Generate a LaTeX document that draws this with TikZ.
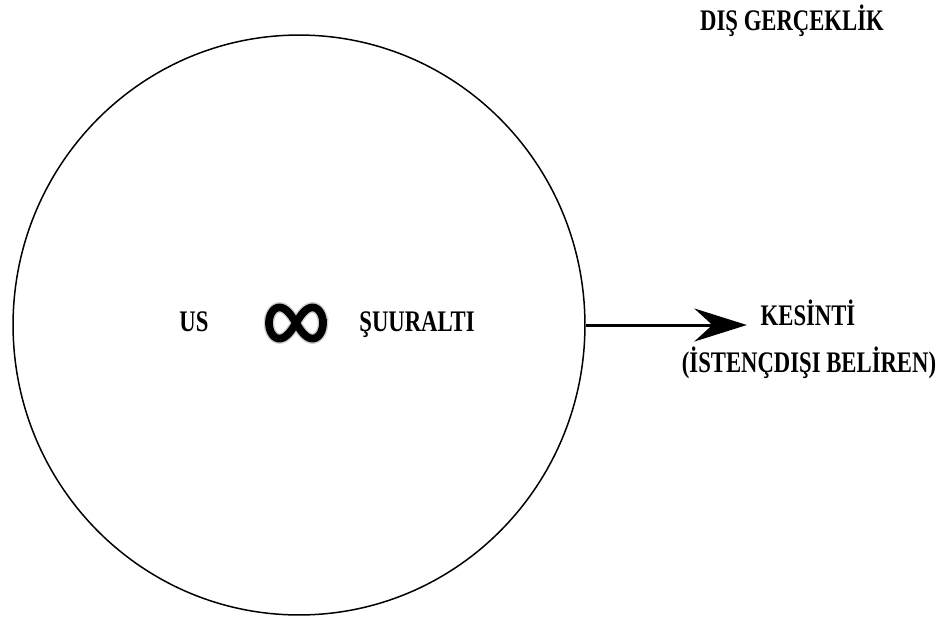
\documentclass[tikz,border=0pt]{standalone}
\usepackage{fontspec}
\setmainfont{Liberation Serif}[FakeStretch=0.76]
\usetikzlibrary{arrows.meta,positioning,shapes.geometric}

\begin{document}
\begin{tikzpicture}[
  x=0.02cm, y=-0.02cm,
  node distance=0.35cm,
  label/.style={font=\bfseries\fontsize{17}{19}\selectfont, anchor=base, inner sep=2pt},
  arrow/.style={-{Stealth[length=1.05cm, width=0.66cm, inset=0.36cm]}, line width=1.7pt}
]
\useasboundingbox (0,0) rectangle (945,619);
% mind and its outside
\node[ellipse, draw, line width=0.85pt, minimum width=11.44cm, minimum height=11.6cm] (ring) at (299,325) {};
\node[label] (us) at (194,331) {US};
\node[label] (suuralti) at (417,331) {ŞUURALTI};
\node[label] (dis) at (792,30) {DIŞ GERÇEKLİK};
\node[label] (kesinti) at (808,325) {KESİNTİ};
\node[label, anchor=north] (istenc) at (809,343) {(İSTENÇDIŞI BELİREN)};
% infinity sign, slightly blurred
\begin{scope}[shift={(296,323)}]
  \draw[line width=6pt, black!20] plot[domain=0:360, samples=120, smooth cycle]
    ({27*cos(\x)/(1+sin(\x)^2)}, {44*sin(\x)*cos(\x)/(1+sin(\x)^2)});
  \draw[line width=4.4pt] plot[domain=0:360, samples=120, smooth cycle]
    ({27*cos(\x)/(1+sin(\x)^2)}, {44*sin(\x)*cos(\x)/(1+sin(\x)^2)});
\end{scope}
\draw[arrow, shorten >=0.2cm] (ring.east) -- (ring.east -| kesinti.west);
\end{tikzpicture}
\end{document}
